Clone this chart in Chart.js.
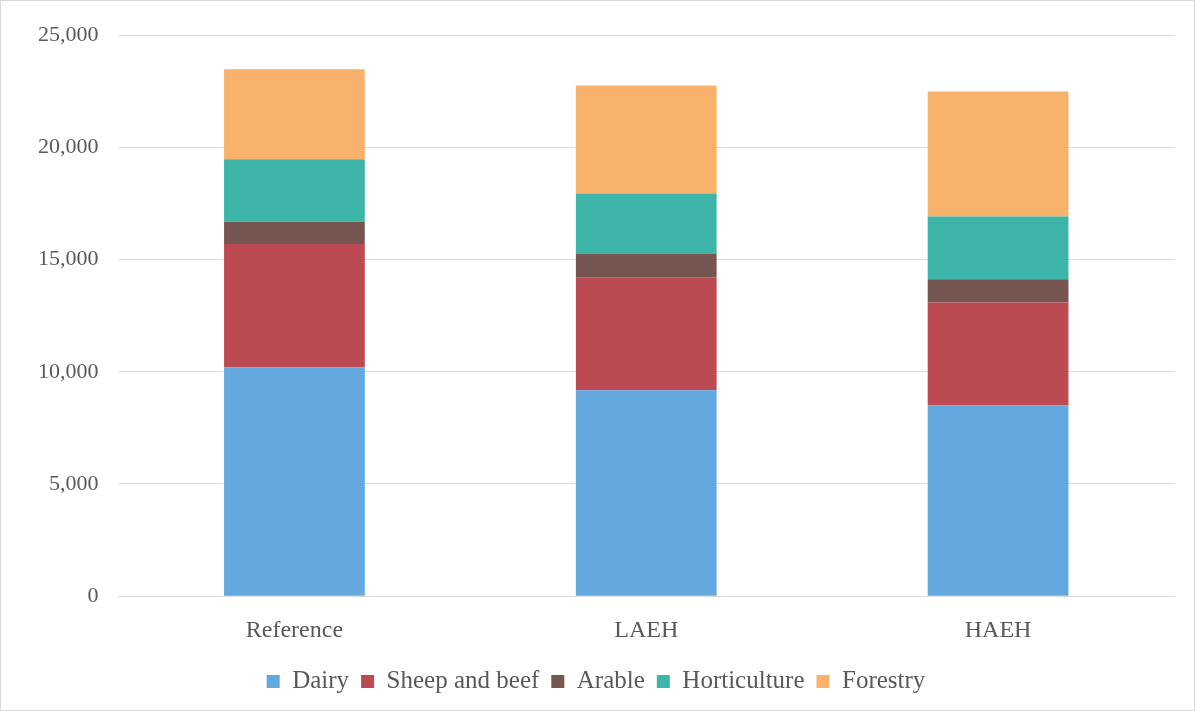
<!DOCTYPE html>
<html>
<head>
<meta charset="utf-8">
<script src="https://cdn.jsdelivr.net/npm/chart.js@4"></script>
<style>
	body { margin: 0; background: #fff; }
	#wrap { position: absolute; left: 0; top: 0; width: 1193px; height: 709px; border: 1px solid #d9d9d9; }
	canvas { display: block; }
</style>
</head>
<body>
<div id="wrap"><canvas id="chart" width="1193" height="709"></canvas></div>
<script>
// values
let scenarios = ["Reference", "LAEH", "HAEH"];
let dairy = [10200, 9170, 8500];
let sheepBeef = [5490, 5040, 4580];
let arable = [990, 1030, 1040];
let horticulture = [2790, 2700, 2790];
let forestry = [4000, 4810, 5570];

let textColor = "#595959";
let font = "'Liberation Serif', 'DejaVu Serif', serif";

function ds(label, data, color) {
	return { label: label, data: data, backgroundColor: color, barPercentage: 0.4, categoryPercentage: 1 };
}

let chart = new Chart(document.getElementById("chart"), {
	type: "bar",
	data: {
		labels: scenarios,
		datasets: [
			ds("Dairy", dairy, "#64a8e0"),
			ds("Sheep and beef", sheepBeef, "#bc4a52"),
			ds("Arable", arable, "#765650"),
			ds("Horticulture", horticulture, "#3db5a9"),
			ds("Forestry", forestry, "#f8b26b")
		]
	},
	options: {
		responsive: false,
		maintainAspectRatio: false,
		animation: false,
		layout: { padding: { left: 17, right: 20, top: 34, bottom: 6 } },
		plugins: {
			legend: {
				position: "bottom",
				labels: { color: textColor, font: { family: font, size: 25 }, boxWidth: 13, boxHeight: 13, padding: 12 }
			},
			tooltip: { enabled: false }
		},
		scales: {
			x: {
				stacked: true,
				grid: { display: false },
				border: { color: "#d9d9d9" },
				ticks: { color: textColor, font: { family: font, size: 24 }, padding: 12 }
			},
			y: {
				stacked: true,
				min: 0, max: 25000,
				grid: { color: "#d9d9d9", drawTicks: false },
				border: { display: false },
				ticks: { stepSize: 5000, color: textColor, font: { family: font, size: 22 }, padding: 20,
					callback: function (v) { return v.toLocaleString("en-US"); } }
			}
		}
	}
});
</script>
</body>
</html>
